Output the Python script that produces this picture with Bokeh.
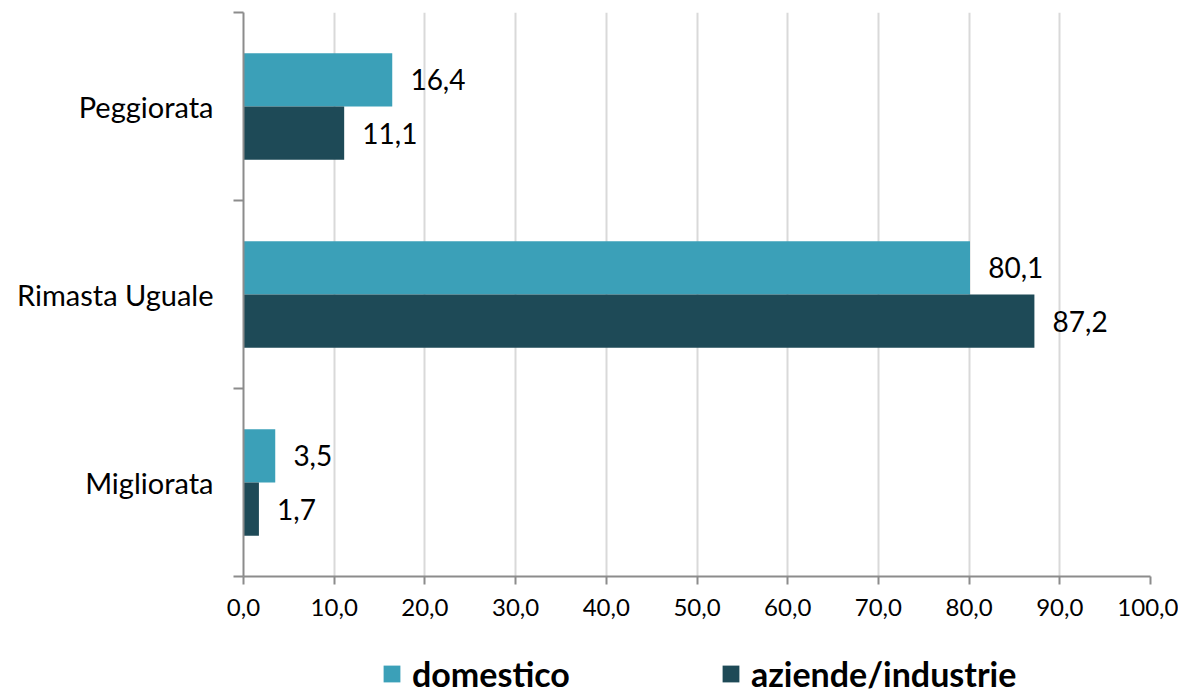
from bokeh.plotting import figure
from bokeh.models import ColumnDataSource, FixedTicker, Legend, LegendItem, Range1d
from bokeh.layouts import column
from bokeh.transform import dodge
from bokeh.core.properties import value
from bokeh.embed import file_html
from bokeh.resources import INLINE

categories = ["Migliorata", "Rimasta Uguale", "Peggiorata"]
domestico = [3.5, 80.1, 16.4]
aziende = [1.7, 87.2, 11.1]
series_names = ["domestico", "aziende/industrie"]
x_ticks = [0, 10, 20, 30, 40, 50, 60, 70, 80, 90, 100]

C_DOM = "#3BA0B8"
C_AZ = "#1E4A57"
FONT = "Lato"

pos = [i + 0.5 for i in range(len(categories))]

def fmt(v):
    return f"{v:.1f}".replace(".", ",")

src = ColumnDataSource(dict(
    y=pos, dom=domestico, az=aziende,
    dom_lbl=[fmt(v) for v in domestico],
    az_lbl=[fmt(v) for v in aziende],
))

p = figure(x_range=(0, 100), y_range=(0, len(categories)),
           output_backend="svg", toolbar_location=None,
           frame_width=907, frame_height=564,
           min_border_left=243, min_border_top=12, min_border_right=28, min_border_bottom=50)
p.outline_line_color = None
p.background_fill_color = "white"

bh = 0.283
p.hbar(y=dodge("y", bh / 2), right="dom", left=0, height=bh, source=src,
       fill_color=C_DOM, line_color=None)
p.hbar(y=dodge("y", -bh / 2), right="az", left=0, height=bh, source=src,
       fill_color=C_AZ, line_color=None)

p.text(x=dodge("dom", 2.0), y=dodge("y", bh / 2), text="dom_lbl", source=src,
       text_font=value(FONT), text_font_size="28px", text_baseline="middle",
       text_align="left", text_color="black")
p.text(x=dodge("az", 2.0), y=dodge("y", -bh / 2), text="az_lbl", source=src,
       text_font=value(FONT), text_font_size="28px", text_baseline="middle",
       text_align="left", text_color="black")

# x axis
p.xaxis.ticker = FixedTicker(ticks=x_ticks)
p.xaxis.major_label_overrides = {t: fmt(t) for t in x_ticks}
p.xaxis.major_label_text_font = FONT
p.xaxis.major_label_text_font_size = "24px"
p.xaxis.major_label_text_color = "black"
p.xaxis.axis_line_color = "#8C8C8C"
p.xaxis.axis_line_width = 2
p.xaxis.major_tick_line_color = "#8C8C8C"
p.xaxis.major_tick_line_width = 2
p.xaxis.major_tick_out = 8
p.xaxis.major_tick_in = 0
p.xaxis.minor_tick_line_color = None
p.xaxis.major_label_standoff = 14

# y axis
p.yaxis.ticker = FixedTicker(ticks=pos, minor_ticks=list(range(len(categories) + 1)))
p.yaxis.major_label_overrides = {pp: c for pp, c in zip(pos, categories)}
p.yaxis.major_label_text_font = FONT
p.yaxis.major_label_text_font_size = "29px"
p.yaxis.major_label_text_color = "black"
p.yaxis.axis_line_color = "#8C8C8C"
p.yaxis.axis_line_width = 2
p.yaxis.major_tick_line_color = None
p.yaxis.major_tick_out = 0
p.yaxis.major_tick_in = 0
p.yaxis.minor_tick_line_color = "#8C8C8C"
p.yaxis.minor_tick_line_width = 2
p.yaxis.minor_tick_out = 10
p.yaxis.minor_tick_in = 0
p.yaxis.major_label_standoff = 20

p.xgrid.grid_line_color = "#D9D9D9"
p.xgrid.grid_line_width = 2
p.ygrid.grid_line_color = None

# legend strip (legend swatches come from off-range renderers)
pl = figure(width=1178, height=70, x_range=Range1d(0, 1), y_range=Range1d(0, 1),
            output_backend="svg", toolbar_location=None,
            min_border_left=0, min_border_right=0, min_border_top=0, min_border_bottom=0)
pl.axis.visible = False
pl.grid.visible = False
pl.outline_line_color = None
leg_src = ColumnDataSource(dict(y=[-5.0], r=[0.5]))
lr1 = pl.hbar(y="y", right="r", left=0, height=0.1, source=leg_src,
              fill_color=C_DOM, line_color=None)
lr2 = pl.hbar(y="y", right="r", left=0, height=0.1, source=leg_src,
              fill_color=C_AZ, line_color=None)

legend = Legend(items=[LegendItem(label=series_names[0], renderers=[lr1]),
                       LegendItem(label=series_names[1], renderers=[lr2])],
                orientation="horizontal", location=(138, 2))
legend.label_text_font = FONT
legend.label_text_font_style = "bold"
legend.label_text_font_size = "34px"
legend.label_text_color = "black"
legend.label_height = 34
legend.glyph_width = 21
legend.glyph_height = 21
legend.label_standoff = 10
legend.spacing = 150
legend.border_line_color = None
legend.background_fill_alpha = 0
legend.margin = 0
legend.padding = 0
pl.add_layout(legend, "center")

layout = column(p, pl, spacing=0)
open("out.html", "w").write(file_html(layout, INLINE))
